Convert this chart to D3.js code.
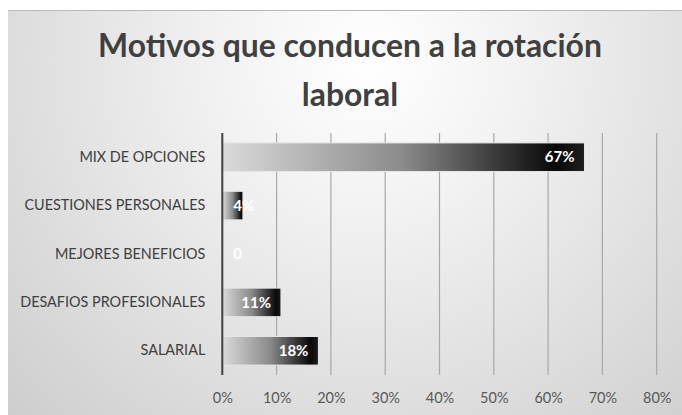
<!DOCTYPE html>
<html>
<head>
<meta charset="utf-8">
<script src="https://cdn.jsdelivr.net/npm/d3@7"></script>
<style>
  html, body { margin: 0; padding: 0; background: #ffffff; }
  svg { display: block; }
</style>
</head>
<body>
<svg id="chart" width="682" height="415"></svg>
<script>
const title = ["Motivos que conducen a la rotación", "laboral"];
const categories = ["MIX DE OPCIONES", "CUESTIONES PERSONALES", "MEJORES BENEFICIOS", "DESAFIOS PROFESIONALES", "SALARIAL"];
const values = [0.667, 0.038, 0, 0.108, 0.177];
const valueLabels = ["67%", "4%", "0", "11%", "18%"];
const xTicks = [0, 0.1, 0.2, 0.3, 0.4, 0.5, 0.6, 0.7, 0.8];

const W = 682, H = 415;
const FONT = "Lato, 'Open Sans', sans-serif";
const svg = d3.select("#chart");
const defs = svg.append("defs");

// Background radial gradient
const bg = defs.append("radialGradient").attr("id", "bgGrad")
  .attr("gradientUnits", "userSpaceOnUse")
  .attr("cx", 370).attr("cy", 60).attr("r", 560);
bg.append("stop").attr("offset", 0).attr("stop-color", "#ffffff");
bg.append("stop").attr("offset", 0.25).attr("stop-color", "#f3f3f3");
bg.append("stop").attr("offset", 1).attr("stop-color", "#c8c8c8");

// Bar gradient
const bar = defs.append("linearGradient").attr("id", "barGrad")
  .attr("x1", 0).attr("x2", 1).attr("y1", 0).attr("y2", 0);
bar.append("stop").attr("offset", 0).attr("stop-color", "#dadada");
bar.append("stop").attr("offset", 0.5).attr("stop-color", "#8a8a8a");
bar.append("stop").attr("offset", 0.92).attr("stop-color", "#080808");
bar.append("stop").attr("offset", 1).attr("stop-color", "#1e1e1e");

svg.append("rect").attr("x", 8).attr("y", 10).attr("width", W - 8).attr("height", H - 10)
  .attr("fill", "url(#bgGrad)");
svg.append("line").attr("x1", 8).attr("x2", W).attr("y1", 10.5).attr("y2", 10.5)
  .attr("stroke", "#b8b8b8").attr("stroke-width", 1);

// Title
const titleSel = svg.append("g").selectAll("text").data(title).join("text")
  .attr("x", 350).attr("y", (d, i) => 57 + i * 49)
  .attr("text-anchor", "middle")
  .attr("font-family", FONT).attr("font-weight", "bold").attr("font-size", 28)
  .attr("fill", "#404040")
  .text(d => d);
{
  const w0 = titleSel.nodes()[0].getComputedTextLength();
  titleSel.attr("font-size", 28 * 504 / w0);
}

const x = d3.scaleLinear().domain([0, 0.8]).range([222.3, 656.7]);
const y = d3.scaleBand().domain(categories).range([133, 375]).paddingInner(0.41).paddingOuter(0.205);

// Gridlines
svg.append("g").selectAll("line").data(xTicks.filter(d => d > 0)).join("line")
  .attr("x1", d => x(d)).attr("x2", d => x(d))
  .attr("y1", 133).attr("y2", 375)
  .attr("stroke", "#a8a8a8").attr("stroke-width", 1.2);

// Bars
svg.append("g").selectAll("rect").data(values).join("rect")
  .attr("x", x(0))
  .attr("y", (d, i) => y(categories[i]))
  .attr("width", d => x(d) - x(0))
  .attr("height", y.bandwidth())
  .attr("fill", "url(#barGrad)")
  .attr("stroke", d => d > 0 ? "#e6e6e6" : "none")
  .attr("stroke-width", 1);

// Zero axis line
svg.append("line").attr("x1", x(0)).attr("x2", x(0)).attr("y1", 133).attr("y2", 375)
  .attr("stroke", "#404040").attr("stroke-width", 2);

// X axis labels
const xAxis = svg.append("g").attr("transform", "translate(0,375)")
  .call(d3.axisBottom(x).tickValues(xTicks).tickFormat(d3.format(".0%")).tickSize(0).tickPadding(18));
xAxis.select(".domain").remove();
xAxis.selectAll("text").attr("font-family", FONT).attr("font-size", 14.5).attr("fill", "#595959");

// Y axis labels
const yAxis = svg.append("g").attr("transform", `translate(${x(0)},0)`)
  .call(d3.axisLeft(y).tickSize(0).tickPadding(17));
yAxis.select(".domain").remove();
const yText = yAxis.selectAll("text").attr("font-family", FONT).attr("font-size", 14).attr("fill", "#404040")
  .attr("dy", "0.32em");
{
  const w1 = yText.nodes()[1].getComputedTextLength();
  yText.attr("font-size", 14 * 181 / w1);
}

// Data labels
svg.append("g").selectAll("text").data(values).join("text")
  .attr("y", (d, i) => y(categories[i]) + y.bandwidth() / 2)
  .attr("dy", "0.35em")
  .attr("font-family", FONT).attr("font-weight", "bold").attr("font-size", 15)
  .attr("fill", "#ffffff")
  .text((d, i) => valueLabels[i])
  .attr("x", function(d) {
    const w = this.getComputedTextLength();
    return Math.max(x(d) - 10 - w, x(0) + 11);
  });
</script>
</body>
</html>
